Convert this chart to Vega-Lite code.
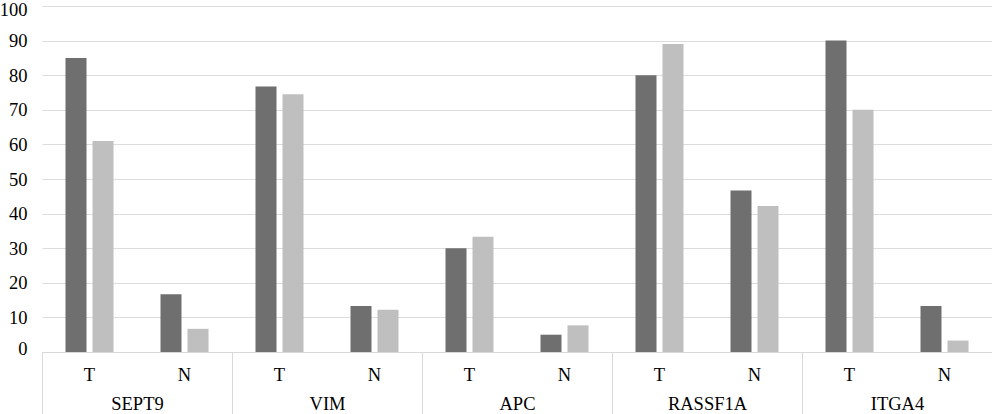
{
  "$schema": "https://vega.github.io/schema/vega-lite/v6.json",
  "width": 950,
  "height": 346,
  "autosize": "none",
  "padding": {"left": 42, "top": 6, "right": 0, "bottom": 62},
  "background": "white",
  "config": {
    "view": {"stroke": null},
    "font": "Liberation Serif",
    "axis": {"labelFont": "Liberation Serif", "labelFontSize": 18.5, "labelColor": "#000000", "labelOverlap": false}
  },
  "data": {
    "values": [
      {"gene": "SEPT9", "cat": "SEPT9 T", "series": "A", "value": 85},
      {"gene": "SEPT9", "cat": "SEPT9 T", "series": "B", "value": 61},
      {"gene": "SEPT9", "cat": "SEPT9 N", "series": "A", "value": 16.7},
      {"gene": "SEPT9", "cat": "SEPT9 N", "series": "B", "value": 6.7},
      {"gene": "VIM", "cat": "VIM T", "series": "A", "value": 76.7},
      {"gene": "VIM", "cat": "VIM T", "series": "B", "value": 74.5},
      {"gene": "VIM", "cat": "VIM N", "series": "A", "value": 13.3},
      {"gene": "VIM", "cat": "VIM N", "series": "B", "value": 12.2},
      {"gene": "APC", "cat": "APC T", "series": "A", "value": 30},
      {"gene": "APC", "cat": "APC T", "series": "B", "value": 33.3},
      {"gene": "APC", "cat": "APC N", "series": "A", "value": 5},
      {"gene": "APC", "cat": "APC N", "series": "B", "value": 7.7},
      {"gene": "RASSF1A", "cat": "RASSF1A T", "series": "A", "value": 80},
      {"gene": "RASSF1A", "cat": "RASSF1A T", "series": "B", "value": 89},
      {"gene": "RASSF1A", "cat": "RASSF1A N", "series": "A", "value": 46.7},
      {"gene": "RASSF1A", "cat": "RASSF1A N", "series": "B", "value": 42.2},
      {"gene": "ITGA4", "cat": "ITGA4 T", "series": "A", "value": 90},
      {"gene": "ITGA4", "cat": "ITGA4 T", "series": "B", "value": 70},
      {"gene": "ITGA4", "cat": "ITGA4 N", "series": "A", "value": 13.3},
      {"gene": "ITGA4", "cat": "ITGA4 N", "series": "B", "value": 3.3}
    ]
  },
  "layer": [
    {
      "mark": {"type": "bar"},
      "encoding": {
        "x": {
          "field": "cat",
          "type": "nominal",
          "sort": ["SEPT9 T", "SEPT9 N", "VIM T", "VIM N", "APC T", "APC N", "RASSF1A T", "RASSF1A N", "ITGA4 T", "ITGA4 N"],
          "scale": {"paddingInner": 0, "paddingOuter": 0},
          "axis": {
            "title": null,
            "labelExpr": "substring(datum.value, length(datum.value) - 1)",
            "labelAngle": 0,
            "ticks": false,
            "grid": false,
            "domainColor": "#d9d9d9",
            "labelPadding": 28.5,
            "labelBaseline": "alphabetic",
            "labelFont": "Liberation Serif",
            "labelFontSize": 18.5
          }
        },
        "xOffset": {"field": "series", "type": "nominal", "scale": {"paddingInner": 0.222, "paddingOuter": 0.87}},
        "y": {
          "field": "value",
          "type": "quantitative",
          "scale": {"domain": [0, 100]},
          "axis": {
            "title": null,
            "values": [0, 10, 20, 30, 40, 50, 60, 70, 80, 90, 100],
            "domain": false,
            "ticks": false,
            "labelPadding": 15,
            "labelOverlap": false,
            "labelFlush": true,
            "labelFlushOffset": 6,
            "gridColor": "#dcdcdc",
            "labelFont": "Liberation Serif",
            "labelFontSize": 18.5
          }
        },
        "color": {"field": "series", "type": "nominal", "scale": {"range": ["#6f6f6f", "#bfbfbf"]}, "legend": null}
      }
    },
    {
      "mark": {"type": "point", "opacity": 0},
      "encoding": {
        "x": {
          "field": "gene",
          "type": "nominal",
          "sort": ["SEPT9", "VIM", "APC", "RASSF1A", "ITGA4"],
          "scale": {"type": "band", "paddingInner": 0, "paddingOuter": 0},
          "axis": {
            "title": null,
            "orient": "bottom",
            "labelAngle": 0,
            "domain": false,
            "grid": false,
            "tickBand": "extent",
            "tickSize": 62,
            "tickColor": "#d9d9d9",
            "labelPadding": -5,
            "labelBaseline": "alphabetic",
            "labelFont": "Liberation Serif",
            "labelFontSize": 18.5
          }
        }
      }
    }
  ],
  "resolve": {"scale": {"x": "independent"}}
}
